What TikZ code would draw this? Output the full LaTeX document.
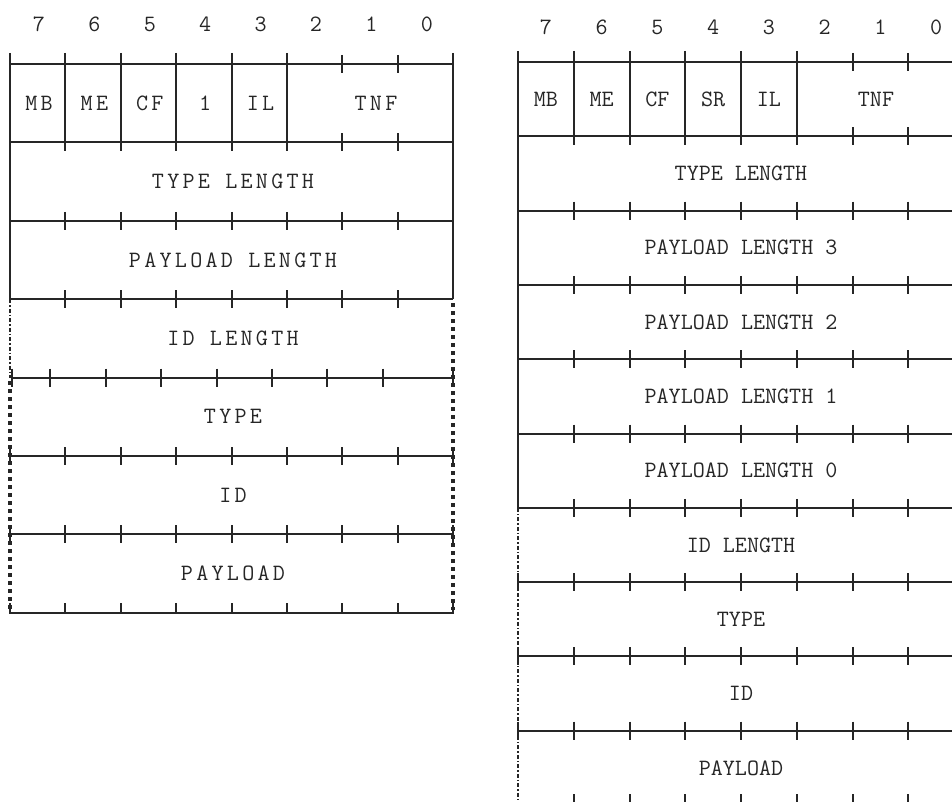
\documentclass[tikz,border=0pt]{standalone}
\usepackage{fontspec}
\setmonofont{Latin Modern Mono}
\newfontfamily\widemono[LetterSpace=14]{Latin Modern Mono}
\begin{document}
\begin{tikzpicture}[
    x=1pt, y=-1pt,
    rule/.style={line width=2pt, draw=black!85},
    dotrule/.style={line width=3.6pt, draw=black!85, dash pattern=on 3.5pt off 4.5pt},
    dashrule/.style={line width=1.2pt, draw=black!85, dash pattern=on 4pt off 2pt on 1.5pt off 2pt},
    field/.style={inner sep=0pt, text=black!85, font=\fontsize{23.4}{28}\ttfamily},
    widefield/.style={field, font=\fontsize{23.4}{28}\widemono},
]
    \useasboundingbox (0,0) rectangle (952,802);
    \clip (0,0) rectangle (952,802);

    % Short record (left)
    \foreach \b [count=\i from 0] in {7,6,5,4,3,2,1,0}
        \node[widefield] (sbit\b) at (39+55.4*\i, 24) {\b};
    \node[widefield] (smb) at (39, 103) {MB};
    \node[widefield] (sme) at (94.4, 103) {ME};
    \node[widefield] (scf) at (149.8, 103) {CF};
    \node[widefield] (ssr) at (205.2, 103) {1};
    \node[widefield] (sil) at (260.6, 103) {IL};
    \node[widefield] (stnf) at (376, 103) {TNF};
    \node[widefield] (stypelen) at (233, 181.6) {TYPE LENGTH};
    \node[widefield] (spaylen) at (233, 260) {PAYLOAD LENGTH};
    \node[widefield] (sidlen) at (233, 338.4) {ID LENGTH};
    \node[widefield] (stype) at (233, 416.8) {TYPE};
    \node[widefield] (sid) at (233, 495.2) {ID};
    \node[widefield] (spayload) at (233, 573.6) {PAYLOAD};

    % rows
    \foreach \y in {64,142.4,220.8,299.2,456,534.4,612.8}
        \draw[rule] (10,\y) -- (453,\y);
    \draw[rule] (12,377.6) -- (453,377.6);
    % header columns
    \draw[rule] (10,53) -- (10,299.2);
    \draw[rule] (453,53) -- (453,299.2);
    \foreach \k in {1,...,5}
        \draw[rule] (10+55.4*\k,53) -- (10+55.4*\k,151);
    \foreach \k in {6,7} {
        \draw[rule] (10+55.4*\k,55) -- (10+55.4*\k,73);
        \draw[rule] (10+55.4*\k,133.4) -- (10+55.4*\k,151.4);
    }
    % ticks
    \foreach \y in {142.4,220.8,299.2,456,534.4}
        \foreach \k in {1,...,7}
            \draw[rule] (10+55.4*\k,\y-9) -- (10+55.4*\k,\y+9);
    \foreach \k in {1,...,7}
        \draw[rule] (10+55.4*\k-15,368.6) -- (10+55.4*\k-15,386.6);
    \foreach \k in {1,...,7}
        \draw[rule] (10+55.4*\k,603) -- (10+55.4*\k,612.8);
    \draw[rule] (12,368.6) -- (12,386.6);
    \foreach \x in {10,453} {
        \draw[rule] (\x,447) -- (\x,465);
        \draw[rule] (\x,525.4) -- (\x,543.4);
        \draw[rule] (\x,603) -- (\x,613.8);
    }
    \draw[rule] (453,368.6) -- (453,386.6);
    % optional fields
    \draw[dashrule] (10,299.2) -- (10,377.6);
    \draw[dotrule] (10,381) -- (10,610);
    \draw[dotrule] (453,303) -- (453,610);

    % Normal record (right)
    \foreach \b [count=\i from 0] in {7,6,5,4,3,2,1,0}
        \node[field] (nbit\b) at (545.9+55.75*\i, 27) {\b};
    \node[field] (nmb) at (545.9, 99) {MB};
    \node[field] (nme) at (601.6, 99) {ME};
    \node[field] (ncf) at (657.4, 99) {CF};
    \node[field] (nsr) at (713.1, 99) {SR};
    \node[field] (nil) at (768.9, 99) {IL};
    \node[field] (ntnf) at (876, 99) {TNF};
    \node[field] (ntypelen) at (741, 173.5) {TYPE LENGTH};
    \node[field] (npaylen3) at (741, 247.8) {PAYLOAD LENGTH 3};
    \node[field] (npaylen2) at (741, 322.1) {PAYLOAD LENGTH 2};
    \node[field] (npaylen1) at (741, 396.4) {PAYLOAD LENGTH 1};
    \node[field] (npaylen0) at (741, 470.7) {PAYLOAD LENGTH 0};
    \node[field] (nidlen) at (741, 545) {ID LENGTH};
    \node[field] (ntype) at (741, 619.3) {TYPE};
    \node[field] (nid) at (741, 693.6) {ID};
    \node[field] (npayload) at (741, 767.9) {PAYLOAD};

    % rows
    \foreach \j in {0,...,10}
        \draw[rule] (518,62+74.3*\j) -- (964,62+74.3*\j);
    % header columns
    \draw[rule] (518,51) -- (518,507.8);
    \draw[rule] (964,51) -- (964,805);
    \foreach \k in {1,...,5}
        \draw[rule] (518+55.75*\k,51) -- (518+55.75*\k,145);
    \foreach \k in {6,7} {
        \draw[rule] (518+55.75*\k,53) -- (518+55.75*\k,71);
        \draw[rule] (518+55.75*\k,127.3) -- (518+55.75*\k,145.3);
    }
    % ticks
    \foreach \j in {2,...,9}
        \foreach \k in {1,...,7}
            \draw[rule] (518+55.75*\k,62+74.3*\j-9) -- (518+55.75*\k,62+74.3*\j+9);
    \foreach \k in {1,...,7}
        \draw[rule] (518+55.75*\k,794) -- (518+55.75*\k,805);
    \foreach \j in {7,8,9}
        \draw[rule] (518,62+74.3*\j-9) -- (518,62+74.3*\j+9);
    % optional fields
    \draw[dashrule] (518,507.8) -- (518,805);
\end{tikzpicture}
\end{document}
